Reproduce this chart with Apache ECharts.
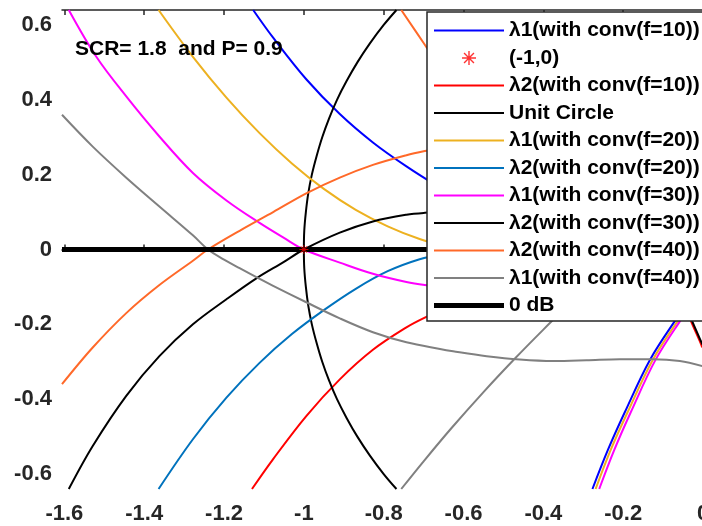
<!DOCTYPE html>
<html><head><meta charset="utf-8">
<script src="https://cdn.jsdelivr.net/npm/echarts@6/dist/echarts.min.js"></script>
<style>html,body{margin:0;padding:0;background:#fff}#c{width:702px;height:526px}</style>
</head><body><div id="c"></div>
<script>
// ---- tick labels ----
const xTicks = [-1.6, -1.4, -1.2, -1, -0.8, -0.6, -0.4, -0.2, 0];
const yTicks = [-0.6, -0.4, -0.2, 0, 0.2, 0.4, 0.6];
const annotation = 'SCR= 1.8  and P= 0.9';

const l1f10_a = [[-1.127,0.64],[-1.077,0.566],[-0.994,0.455],[-0.910,0.362],[-0.827,0.286],[-0.743,0.222],[-0.659,0.165]];
const l1f10_b = [[-0.277,-0.64],[-0.238,-0.535],[-0.196,-0.435],[-0.133,-0.295],[-0.066,-0.184],[-0.03,-0.13]];
const pointM1 = [[-1, 0]];
const l2f10_a = [[-1.13,-0.64],[-1.077,-0.56],[-0.994,-0.445],[-0.910,-0.347],[-0.827,-0.268],[-0.743,-0.208],[-0.697,-0.182],[-0.65,-0.16]];
const l2f10_b = [[-0.048,-0.142],[-0.032,-0.187],[-0.006,-0.25],[-0.002,-0.262]];
const unitCircle = [[-0.768,0.64],[-0.80,0.60],[-0.835,0.55],[-0.866,0.50],[-0.893,0.45],[-0.917,0.40],[-0.937,0.35],[-0.954,0.30],[-0.968,0.25],[-0.980,0.20],[-0.989,0.15],[-0.995,0.10],[-0.999,0.05],[-1,0],
  [-0.999,-0.05],[-0.995,-0.10],[-0.989,-0.15],[-0.980,-0.20],[-0.968,-0.25],[-0.954,-0.30],[-0.937,-0.35],[-0.917,-0.40],[-0.893,-0.45],[-0.866,-0.50],[-0.835,-0.55],[-0.80,-0.60],[-0.768,-0.64]];
const l1f20_a = [[-1.364,0.64],[-1.278,0.515],[-1.194,0.406],[-1.111,0.311],[-1.03,0.23],[-0.95,0.162],[-0.87,0.106],[-0.79,0.062],[-0.71,0.028],[-0.65,0.01]];
const l1f20_b = [[-0.269,-0.64],[-0.231,-0.535],[-0.189,-0.435],[-0.126,-0.295],[-0.059,-0.184],[-0.023,-0.13]];
const l2f20 = [[-1.364,-0.64],[-1.278,-0.507],[-1.194,-0.396],[-1.111,-0.303],[-1.03,-0.226],[-0.95,-0.162],[-0.87,-0.105],[-0.79,-0.058],[-0.71,-0.026],[-0.65,-0.012]];
const l1f30_a = [[-1.589,0.64],[-1.520,0.515],[-1.445,0.409],[-1.362,0.302],[-1.278,0.2045],[-1.194,0.131],[-1.111,0.071],[-1.05,0.031],[-1,0],[-0.910,-0.035],[-0.827,-0.065],[-0.743,-0.087],[-0.697,-0.095],[-0.65,-0.1]];
const l1f30_b = [[-0.260,-0.64],[-0.222,-0.535],[-0.181,-0.435],[-0.119,-0.295],[-0.053,-0.184],[-0.018,-0.13]];
const l2f30_a = [[-1.589,-0.64],[-1.529,-0.525],[-1.445,-0.391],[-1.362,-0.285],[-1.278,-0.20],[-1.194,-0.133],[-1.119,-0.077],[-1.05,-0.033],[-1,0],[-0.910,0.045],[-0.827,0.075],[-0.743,0.093],[-0.697,0.098],[-0.65,0.1]];
const l2f30_b = [[-0.045,-0.142],[-0.029,-0.187],[-0.003,-0.25],[0,-0.256]];
const l2f40_a = [[-1.606,-0.36],[-1.529,-0.262],[-1.445,-0.170],[-1.362,-0.095],[-1.278,-0.03],[-1.24,0],[-1.161,0.05],[-1.077,0.100],[-0.994,0.150],[-0.910,0.192],[-0.827,0.226],[-0.743,0.252],[-0.697,0.263],[-0.65,0.272]];
const l2f40_b = [[-0.756,0.64],[-0.697,0.547],[-0.66,0.488]];
const l1f40_a = [[-1.606,0.36],[-1.529,0.275],[-1.445,0.192],[-1.362,0.115],[-1.278,0.038],[-1.24,0],[-1.2,-0.027],[-1.161,-0.05],[-1.119,-0.074],[-1.077,-0.097],[-0.994,-0.141],[-0.910,-0.184],[-0.827,-0.221],[-0.743,-0.248],[-0.659,-0.266],[-0.626,-0.272],[-0.542,-0.285],[-0.459,-0.294],[-0.375,-0.298],[-0.292,-0.296],[-0.208,-0.293],[-0.125,-0.293],[-0.058,-0.298],[0,-0.312]];
const l1f40_b = [[-0.756,-0.64],[-0.70,-0.566],[-0.63,-0.477],[-0.55,-0.381],[-0.47,-0.290],[-0.40,-0.214],[-0.34,-0.151],[-0.30,-0.110]];
const zeroDb = [[-1.606,0],[0,0]];

// ---- styling / assembly ----
const FONT = 'Liberation Sans, Arial, sans-serif';
const AX = '#262626';
const asterisk = 'path://M0 45L100 45L100 55L0 55Z M45 0L55 0L55 100L45 100Z M11.1 18.1L18.1 11.1L88.9 81.9L81.9 88.9Z M18.1 88.9L11.1 81.9L81.9 11.1L88.9 18.1Z';
const lineIcon = 'path://M0 0L70 0L70 2L0 2Z';
const thickIcon = 'path://M0 0L70 0L70 5L0 5Z';

const groups = [
  {name:'λ1(with conv(f=10))', color:'#0000FF', w:2, branches:[l1f10_a, l1f10_b]},
  {name:'(-1,0)', color:'#FF0000', scatter:pointM1},
  {name:'λ2(with conv(f=10))', color:'#FF0000', w:2, branches:[l2f10_a, l2f10_b]},
  {name:'Unit Circle', color:'#000000', w:2, branches:[unitCircle]},
  {name:'λ1(with conv(f=20))', color:'#EDB120', w:2, branches:[l1f20_a, l1f20_b]},
  {name:'λ2(with conv(f=20))', color:'#0072BD', w:2, branches:[l2f20]},
  {name:'λ1(with conv(f=30))', color:'#FF00FF', w:2, branches:[l1f30_a, l1f30_b]},
  {name:'λ2(with conv(f=30))', color:'#000000', w:2, branches:[l2f30_a, l2f30_b]},
  {name:'λ2(with conv(f=40))', color:'#FF6929', w:2, branches:[l2f40_a, l2f40_b]},
  {name:'λ1(with conv(f=40))', color:'#808080', w:2, branches:[l1f40_a, l1f40_b]},
  {name:'0 dB', color:'#000000', w:5, branches:[zeroDb]}
];

const series = [];
const legendData = [];
groups.forEach(g => {
  if (g.scatter) {
    series.push({type:'scatter', name:g.name, data:g.scatter, symbol:asterisk, symbolSize:9,
      itemStyle:{color:g.color}, silent:true, z:3});
    legendData.push({name:g.name, icon:asterisk, itemStyle:{color:g.color}});
  } else {
    g.branches.forEach(b => {
      series.push({type:'line', name:g.name, data:b, showSymbol:false, symbol:'none',
        smooth:0.35, lineStyle:{color:g.color, width:g.w}, itemStyle:{color:g.color},
        silent:true, animation:false});
    });
    legendData.push({name:g.name, icon: g.w > 2 ? thickIcon : lineIcon, itemStyle:{color:g.color}});
  }
});

const fmt = v => String(v);

const chart = echarts.init(document.getElementById('c'), null, {renderer:'canvas'});
chart.setOption({
  animation:false,
  backgroundColor:'#ffffff',
  grid:{left:62, top:10, width:641, height:479, containLabel:false, outerBoundsMode:'none'},
  xAxis:[{
    type:'value', min:-1.606, max:0, position:'bottom',
    axisLine:{show:true, lineStyle:{color:AX, width:1.5}},
    axisTick:{show:true, inside:true, length:5, customValues:xTicks, lineStyle:{color:AX, width:1.5}},
    axisLabel:{show:true, customValues:xTicks, formatter:fmt, margin:14, color:AX,
      fontFamily:FONT, fontWeight:'bold', fontSize:22, hideOverlap:false},
    splitLine:{show:false}
  },{
    type:'value', min:-1.606, max:0, position:'top',
    axisLine:{show:true, lineStyle:{color:AX, width:1.5}},
    axisTick:{show:true, inside:true, length:5, customValues:xTicks, lineStyle:{color:AX, width:1.5}},
    axisLabel:{show:false},
    splitLine:{show:false}
  }],
  yAxis:[{
    type:'value', min:-0.64, max:0.64, position:'left',
    axisLine:{show:true, lineStyle:{color:AX, width:1.5}},
    axisTick:{show:true, inside:true, length:5, customValues:yTicks, lineStyle:{color:AX, width:1.5}},
    axisLabel:{show:true, customValues:yTicks, formatter:fmt, margin:10, color:AX,
      fontFamily:FONT, fontWeight:'bold', fontSize:22},
    splitLine:{show:false}
  }],
  legend:{
    show:true, orient:'vertical', left:427, top:12,
    padding:[8, 30, 5, 7], itemGap:6.5, itemWidth:70, itemHeight:14,
    backgroundColor:'#ffffff', borderColor:AX, borderWidth:1.5, borderRadius:0,
    selectedMode:false,
    textStyle:{fontFamily:FONT, fontWeight:'bold', fontSize:21, color:'#000', lineHeight:20},
    data:legendData
  },
  graphic:[{
    type:'text', left:75, top:39, z:100,
    style:{text:annotation, fill:'#000', font:'bold 21px ' + FONT}
  }],
  series:series
});
</script>
</body></html>
